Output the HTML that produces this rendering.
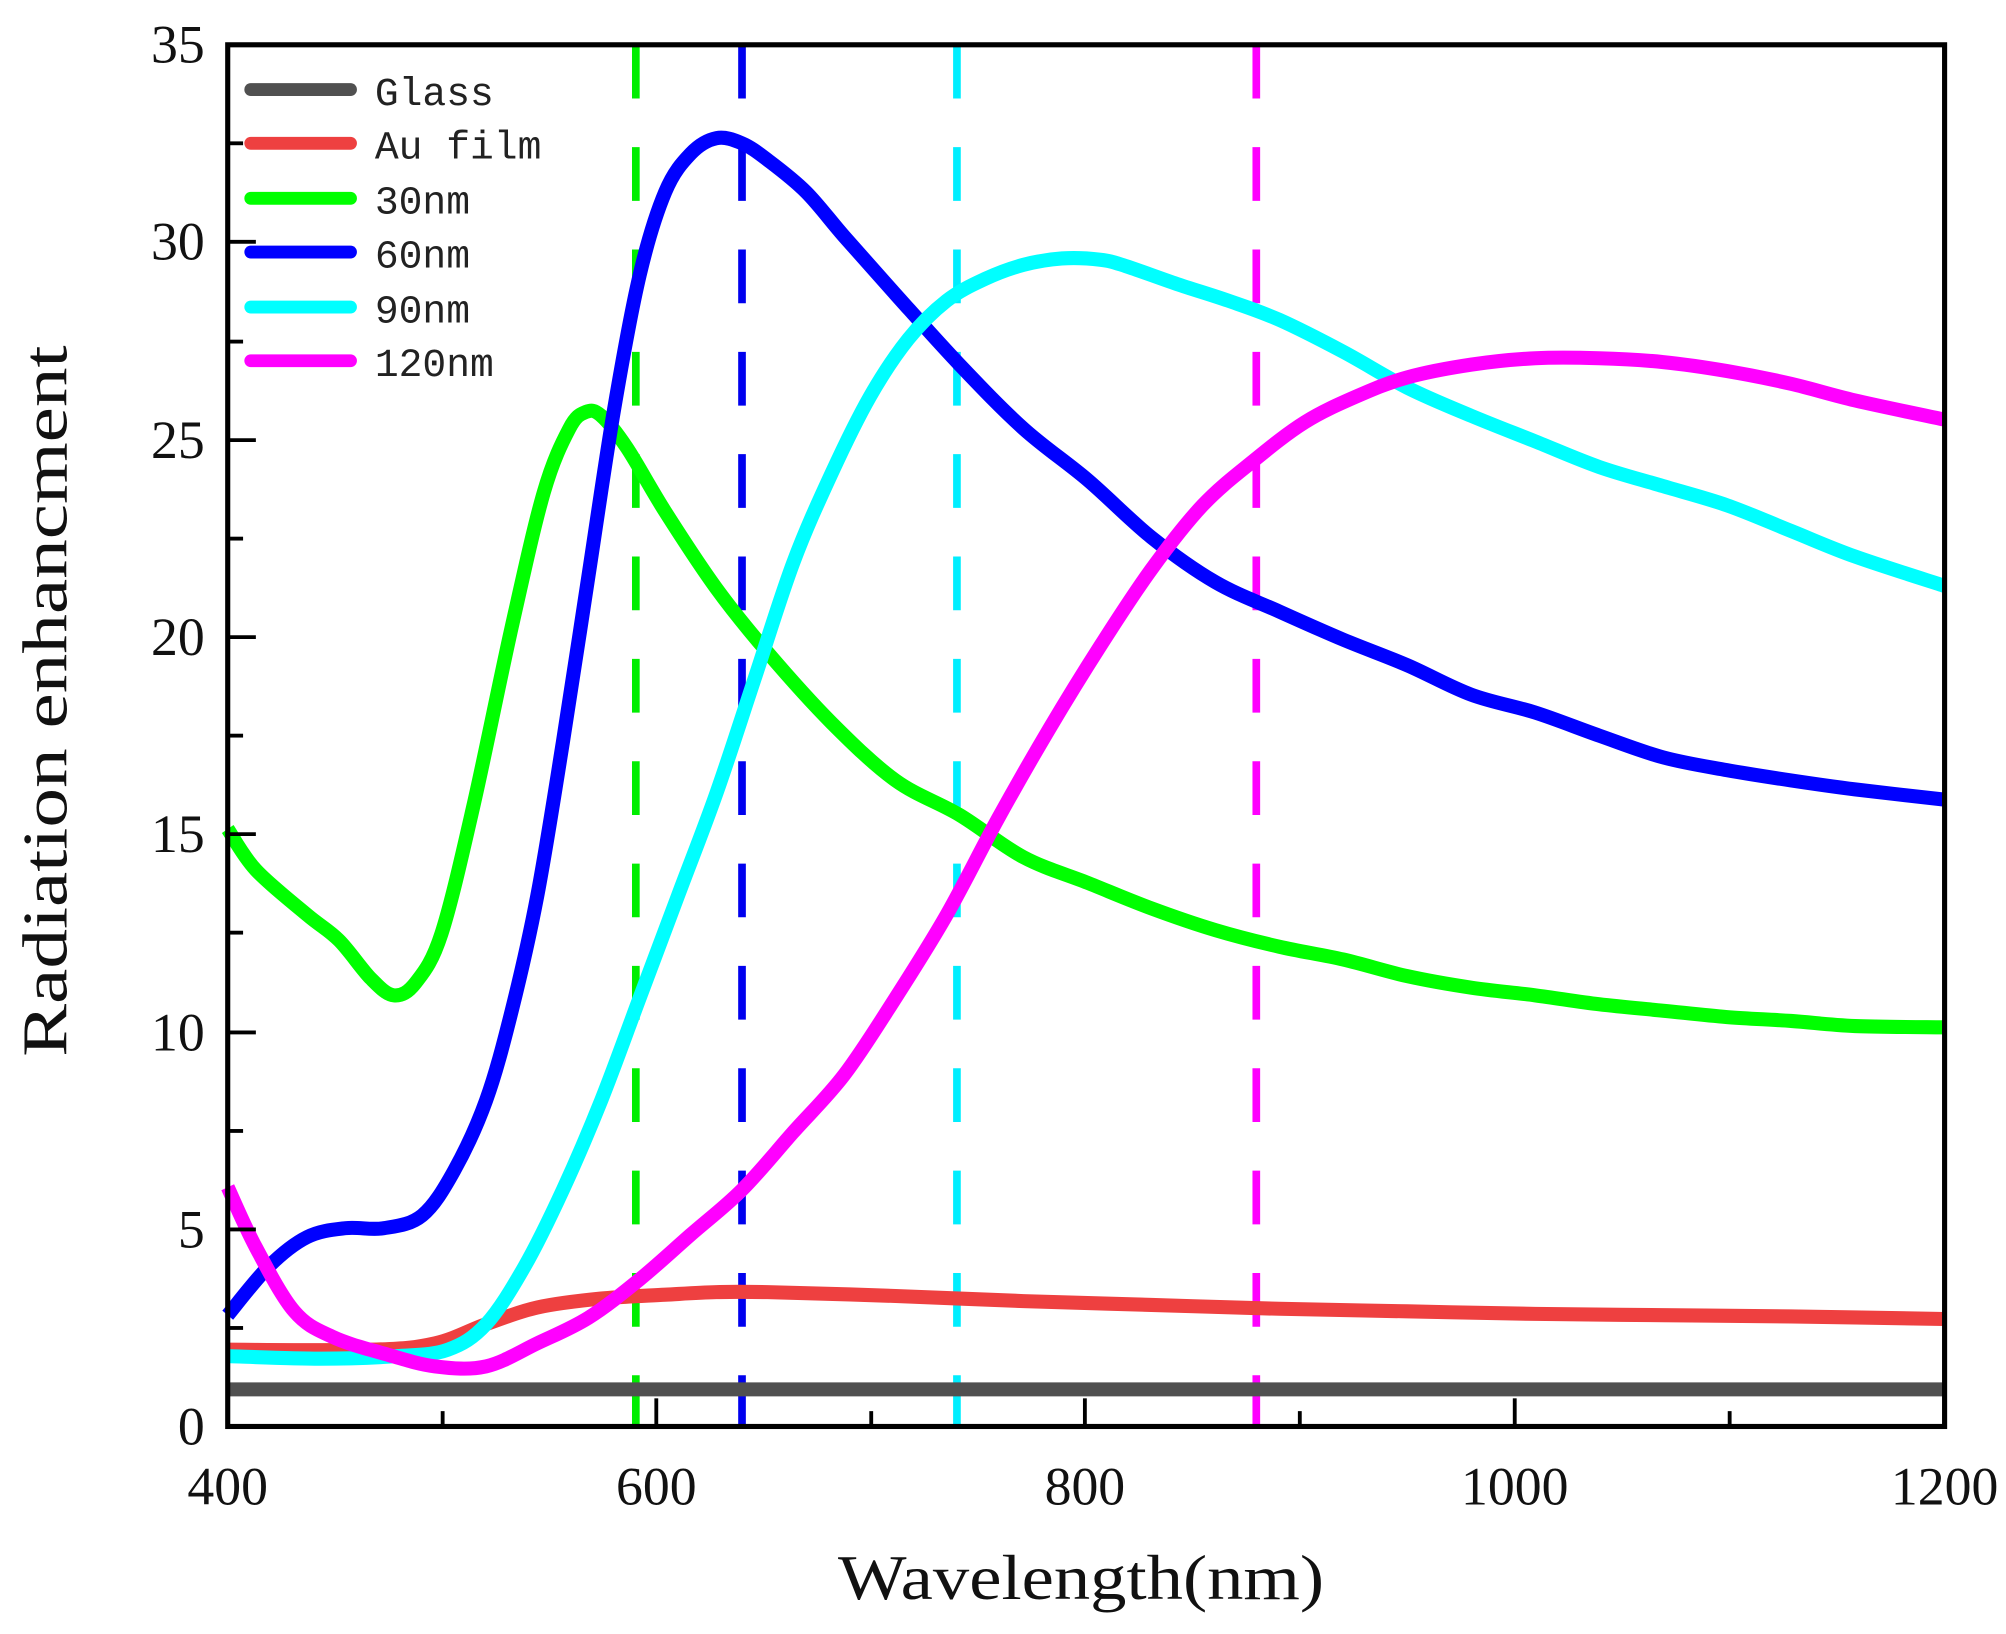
<!DOCTYPE html>
<html><head><meta charset="utf-8"><style>html,body{margin:0;padding:0;background:#fff}svg{display:block}</style></head>
<body>
<svg id="s" width="2006" height="1634" viewBox="0 0 1568 1277.2" xmlns="http://www.w3.org/2000/svg">
<rect width="1568" height="1278" fill="#fff"/>
<g fill="none" stroke-width="6" stroke-dasharray="42 38">
<line x1="497" y1="35" x2="497" y2="1115" stroke="#00ee00"/>
<line x1="580" y1="35" x2="580" y2="1115" stroke="#0000ee"/>
<line x1="748" y1="35" x2="748" y2="1115" stroke="#00eeff"/>
<line x1="982" y1="35" x2="982" y2="1115" stroke="#ff00ff"/>
</g>
<g id="curves" fill="none" stroke-width="11" stroke-linejoin="round" stroke-linecap="butt">
<line x1="178" y1="1086" x2="1520" y2="1086" stroke="#505050"/>
<polyline stroke="#ee4040" points="178,1055 290,1055 340,1050 380,1035 420,1022 470,1015 520,1012 560,1010 600,1010 700,1013 800,1017 900,1020 1000,1023 1100,1025 1200,1027 1300,1028 1400,1029 1520,1031"/>
<polyline stroke="#00ff00" points="178,648 200,680 240,715 265,735 290,765 308,778 325,768 345,730 370,630 400,490 425,385 445,335 458,322 470,325 490,350 520,400 560,460 600,510 650,565 700,610 750,637 800,670 850,690 900,710 950,727 1000,740 1050,750 1100,763 1150,772 1200,778 1250,785 1300,790 1350,795 1400,798 1450,802 1520,803"/>
<polyline stroke="#0000ff" points="178,1028 210,990 240,967 270,960 300,960 330,950 355,915 380,860 400,790 420,700 440,580 460,450 480,320 500,215 520,150 540,120 560,108 580,112 600,125 630,150 660,185 700,230 750,285 800,335 850,375 900,420 950,455 1000,478 1050,500 1100,520 1150,543 1200,557 1250,575 1300,592 1350,602 1400,610 1450,617 1520,625"/>
<polyline stroke="#00ffff" points="178,1060 250,1062 310,1060 350,1055 380,1035 410,990 440,930 470,860 500,780 530,700 560,620 590,530 620,440 650,370 680,310 710,265 740,235 770,218 800,207 830,202 860,203 880,208 920,222 960,235 1000,250 1050,275 1100,303 1150,325 1200,345 1250,365 1300,380 1350,395 1400,415 1450,435 1520,458"/>
<polyline stroke="#ff00ff" points="178,928 200,975 230,1025 260,1045 300,1058 340,1068 380,1068 420,1050 460,1030 500,1000 540,965 580,930 620,885 660,840 700,780 740,715 780,640 820,570 860,505 900,445 940,395 980,360 1020,330 1060,310 1100,295 1150,285 1200,280 1250,280 1300,283 1350,290 1400,300 1450,313 1520,328"/>
</g>
<rect x="178" y="35" width="1342" height="1080" fill="none" stroke="#000" stroke-width="4"/>
<g stroke="#000" stroke-width="3">
<line x1="178" y1="1115" x2="178" y2="1093"/><line x1="513" y1="1115" x2="513" y2="1093"/><line x1="848" y1="1115" x2="848" y2="1093"/><line x1="1184" y1="1115" x2="1184" y2="1093"/>
<line x1="346" y1="1115" x2="346" y2="1103"/><line x1="681" y1="1115" x2="681" y2="1103"/><line x1="1016" y1="1115" x2="1016" y2="1103"/><line x1="1352" y1="1115" x2="1352" y2="1103"/>
<line x1="178" y1="961" x2="200" y2="961"/><line x1="178" y1="807" x2="200" y2="807"/><line x1="178" y1="652" x2="200" y2="652"/><line x1="178" y1="498" x2="200" y2="498"/><line x1="178" y1="344" x2="200" y2="344"/><line x1="178" y1="189" x2="200" y2="189"/>
<line x1="178" y1="1038" x2="190" y2="1038"/><line x1="178" y1="884" x2="190" y2="884"/><line x1="178" y1="729" x2="190" y2="729"/><line x1="178" y1="575" x2="190" y2="575"/><line x1="178" y1="421" x2="190" y2="421"/><line x1="178" y1="267" x2="190" y2="267"/><line x1="178" y1="112" x2="190" y2="112"/>
</g>
<g font-family="Liberation Serif, serif" font-size="42" fill="#111" text-anchor="end">
<text x="160" y="1129">0</text><text x="160" y="975">5</text><text x="160" y="821">10</text><text x="160" y="666">15</text><text x="160" y="512">20</text><text x="160" y="358">25</text><text x="160" y="203">30</text><text x="160" y="49">35</text>
</g>
<g font-family="Liberation Serif, serif" font-size="42" fill="#111" text-anchor="middle">
<text x="178" y="1176">400</text><text x="513" y="1176">600</text><text x="848" y="1176">800</text><text x="1184" y="1176">1000</text><text x="1520" y="1176">1200</text>
<text x="845" y="1250" font-size="50" textLength="380" lengthAdjust="spacingAndGlyphs">Wavelength(nm)</text>
<text transform="translate(52,548) rotate(-90)" font-size="50" textLength="556" lengthAdjust="spacingAndGlyphs">Radiation enhancment</text>
</g>
<g stroke-width="10" stroke-linecap="round">
<line x1="196" y1="70" x2="274" y2="70" stroke="#505050"/>
<line x1="196" y1="112" x2="274" y2="112" stroke="#ee4040"/>
<line x1="196" y1="155" x2="274" y2="155" stroke="#00ff00"/>
<line x1="196" y1="197" x2="274" y2="197" stroke="#0000ff"/>
<line x1="196" y1="240" x2="274" y2="240" stroke="#00ffff"/>
<line x1="196" y1="282" x2="274" y2="282" stroke="#ff00ff"/>
</g>
<g font-family="Liberation Mono, monospace" font-size="31" fill="#222">
<text x="293" y="82">Glass</text><text x="293" y="124">Au film</text><text x="293" y="167">30nm</text><text x="293" y="209">60nm</text><text x="293" y="252">90nm</text><text x="293" y="294">120nm</text>
</g>
</svg>
<script>
(function(){var ns="http://www.w3.org/2000/svg";var pl=document.querySelectorAll("#curves polyline");
for(var i=0;i<pl.length;i++){var e=pl[i];var p=e.getAttribute("points").trim().split(/\s+/).map(function(s){return s.split(",").map(Number)});
var d="M"+p[0][0]+","+p[0][1];for(var k=0;k<p.length-1;k++){var a=p[k-1]||p[k],b=p[k],c=p[k+1],n=p[k+2]||c;
d+=" C"+(b[0]+(c[0]-a[0])/6)+","+(b[1]+(c[1]-a[1])/6)+" "+(c[0]-(n[0]-b[0])/6)+","+(c[1]-(n[1]-b[1])/6)+" "+c[0]+","+c[1];}
var pa=document.createElementNS(ns,"path");pa.setAttribute("d",d);pa.setAttribute("stroke",e.getAttribute("stroke"));e.parentNode.replaceChild(pa,e);}})();
</script>
</body></html>
